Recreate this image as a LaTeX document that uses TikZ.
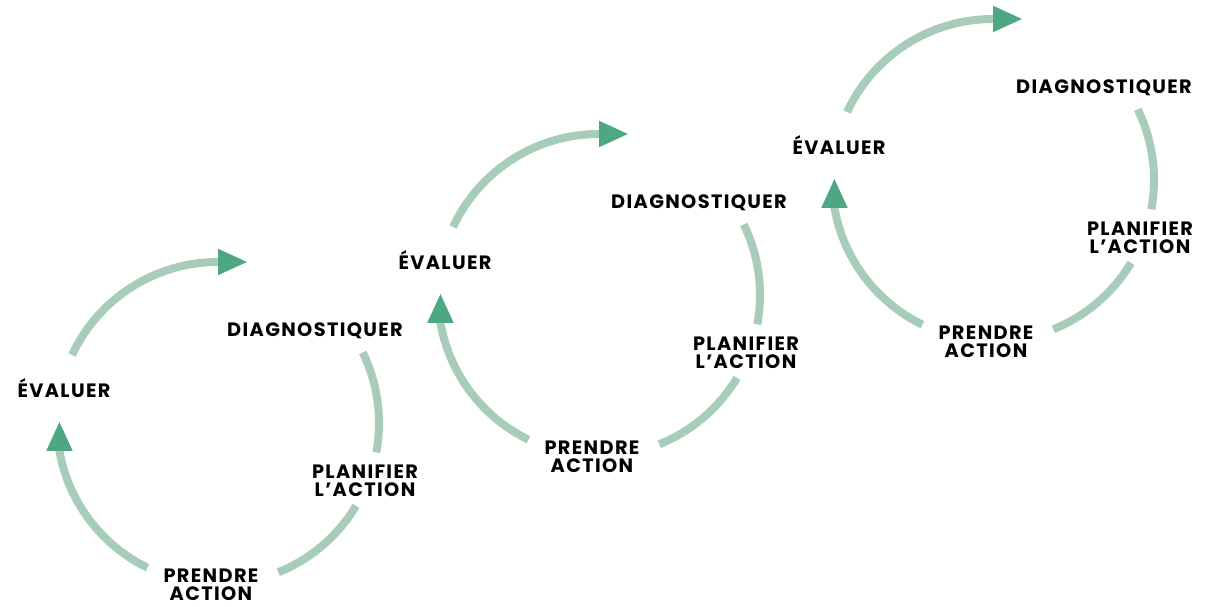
\documentclass[tikz,border=0pt]{standalone}
\usepackage{fontspec}
\setmainfont{Poppins}[LetterSpace=7]
\usetikzlibrary{arrows.meta}
\definecolor{arcgreen}{RGB}{168,204,186}
\definecolor{headgreen}{RGB}{77,166,132}
\tikzset{
  cyclearc/.style={line width=0.16cm, color=arcgreen},
  headed/.style={-{Triangle[length=0.6cm,width=0.48cm,color=headgreen]}},
  lbl/.style={font=\bfseries\fontsize{11}{10.5}\selectfont, align=center, inner sep=0pt}
}
\begin{document}
\begin{tikzpicture}[x=0.02cm,y=0.02cm]
  \useasboundingbox (0,0) rectangle (1213,607);
  \foreach \cx/\cy/\dx/\i in {218/184/97/a,599/312/100/b,993/427/111/c}{
    \begin{scope}[shift={(\cx,\cy)}]
      \draw[cyclearc, headed] (155:161) arc (155:90:161) -- ++(30,0);
      \draw[cyclearc] (26:161) arc (26:-10.5:161);
      \draw[cyclearc] (-31:161) arc (-31:-68:161);
      \draw[cyclearc, headed] (-116:161) arc (-116:-170:161) -- ++(0,30);
      \node[lbl] (ev-\i) at (-154,35) {ÉVALUER};
      \node[lbl] (dg-\i) at (\dx,92) {DIAGNOSTIQUER};
      \node[lbl] (pl-\i) at (147,-58) {PLANIFIER\\L’ACTION};
      \node[lbl] (pr-\i) at (-7,-162) {PRENDRE\\ACTION};
    \end{scope}
  }
\end{tikzpicture}
\end{document}
